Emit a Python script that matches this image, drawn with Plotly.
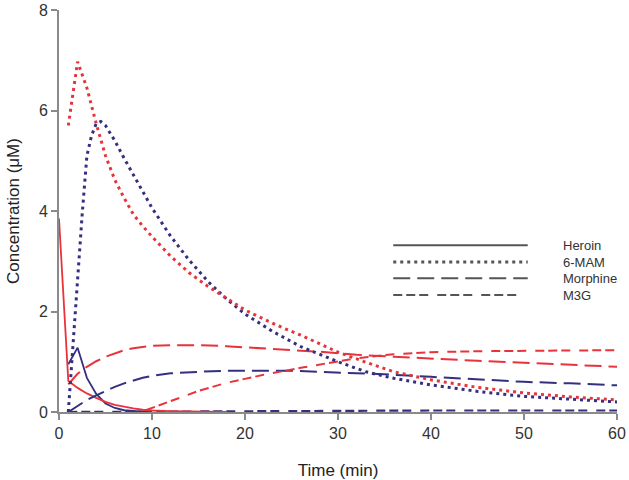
import plotly.graph_objects as go

RED = "#E8333B"
NAVY = "#34307F"

# Heroin
t_her_red = [0, 1, 2, 3, 4, 5, 6, 7, 8, 9, 10, 12, 14, 16, 18]
y_her_red = [3.85, 0.62, 0.48, 0.37, 0.28, 0.2, 0.14, 0.1, 0.07, 0.045, 0.03, 0.018, 0.01, 0.006, 0.004]
t_her_blue = [1, 2, 3, 4, 5, 6, 7, 8, 9, 10]
y_her_blue = [0.95, 1.28, 0.68, 0.36, 0.17, 0.08, 0.035, 0.015, 0.005, 0.0]

# 6-MAM
t_mam_red = [1, 2, 3, 4, 5, 6, 7, 8, 9, 10, 12, 14, 16, 18, 20, 22, 24, 26, 28, 30, 33, 36, 40, 45, 50, 55, 60]
y_mam_red = [5.7, 6.97, 6.45, 5.74, 5.1, 4.62, 4.26, 3.93, 3.7, 3.49, 3.1, 2.77, 2.5, 2.27, 2.03, 1.85, 1.68, 1.53, 1.36, 1.19, 0.99, 0.8, 0.64, 0.49, 0.38, 0.3, 0.24]
t_mam_blue = [1, 1.5, 2, 2.5, 3, 3.5, 4, 4.5, 5, 6, 7, 8, 9, 10, 12, 14, 16, 18, 20, 23, 26, 30, 33, 36, 40, 45, 50, 55, 60]
y_mam_blue = [0.0, 1.3, 2.8, 3.95, 5.1, 5.5, 5.74, 5.78, 5.7, 5.4, 5.05, 4.72, 4.38, 4.06, 3.5, 3.02, 2.6, 2.25, 1.95, 1.6, 1.3, 1.0, 0.8, 0.67, 0.54, 0.41, 0.31, 0.25, 0.2]

# Morphine
t_mor_red = [1, 2, 3, 4, 5, 6, 7, 8, 10, 12, 15, 18, 21, 25, 28, 32, 36, 40, 45, 50, 55, 60]
y_mor_red = [0.55, 0.76, 0.9, 1.01, 1.1, 1.17, 1.23, 1.27, 1.32, 1.33, 1.33, 1.31, 1.27, 1.23, 1.2, 1.14, 1.1, 1.07, 1.02, 0.98, 0.94, 0.9]
t_mor_blue = [1, 2, 3, 4, 5, 6, 7, 8, 9, 10, 12, 15, 18, 25, 30, 35, 40, 45, 50, 55, 60]
y_mor_blue = [0.0, 0.12, 0.24, 0.33, 0.42, 0.5, 0.57, 0.63, 0.68, 0.72, 0.77, 0.8, 0.82, 0.82, 0.79, 0.75, 0.7, 0.65, 0.6, 0.57, 0.53]

# M3G
t_m3g_red = [9.4, 12, 15, 18, 22, 26, 29, 32, 36, 40, 45, 50, 55, 60]
y_m3g_red = [0.04, 0.22, 0.42, 0.58, 0.74, 0.88, 0.97, 1.07, 1.15, 1.19, 1.21, 1.22, 1.23, 1.23]
t_m3g_blue = [1, 10, 20, 30, 40, 50, 60]
y_m3g_blue = [0.0, 0.01, 0.02, 0.025, 0.03, 0.03, 0.03]

legend_names = ["Heroin", "6-MAM", "Morphine", "M3G"]
x_ticks = [0, 10, 20, 30, 40, 50, 60]
y_ticks = [0, 2, 4, 6, 8]

DOT = "3px,4px"
LONG = "17px,7px"
GROUP = "9px,4px,9px,4px,9px,9px"

fig = go.Figure()

def add(x, y, color, dash, width=2):
    fig.add_trace(go.Scatter(x=x, y=y, mode="lines", showlegend=False,
                             line=dict(color=color, width=width, dash=dash),
                             hoverinfo="skip"))

add(t_m3g_blue, y_m3g_blue, NAVY, GROUP, 2.2)
add(t_her_blue, y_her_blue, NAVY, "solid", 1.8)
add(t_her_red, y_her_red, RED, "solid", 1.8)
add(t_mor_blue, y_mor_blue, NAVY, LONG, 2)
add(t_mor_red, y_mor_red, RED, LONG, 2)
add(t_m3g_red, y_m3g_red, RED, GROUP, 2)
add(t_mam_blue, y_mam_blue, NAVY, DOT, 3)
add(t_mam_red, y_mam_red, RED, DOT, 3)

# legend drawn as shapes + annotations (paper coordinates)
leg_y = [0.415, 0.373, 0.333, 0.291]
leg_dash = ["solid", DOT, LONG, GROUP]
leg_w = [2, 3, 2, 2]
leg_x1 = [0.840, 0.840, 0.840, 0.823]
for name, yy, d, w, x1 in zip(legend_names, leg_y, leg_dash, leg_w, leg_x1):
    fig.add_shape(type="line", xref="paper", yref="paper", x0=0.599, x1=x1, y0=yy, y1=yy,
                  line=dict(color="#555555", width=w, dash=d))
    fig.add_annotation(xref="paper", yref="paper", x=0.900, y=yy, text=name, showarrow=False,
                       xanchor="left", yanchor="middle",
                       font=dict(size=13, color="#333333"))

axis_common = dict(showline=True, linecolor="#8A8A8A", linewidth=2, ticks="outside",
                   ticklen=6, tickcolor="#8A8A8A", tickwidth=1.5, showgrid=False,
                   zeroline=False, automargin=False, ticklabeloverflow="allow",
                   tickfont=dict(size=16, color="#333333"))

fig.update_xaxes(range=[0, 60], tickvals=x_ticks,
                 title=dict(text="Time (min)", font=dict(size=17, color="#222222"), standoff=23),
                 **axis_common)
fig.update_yaxes(range=[0, 8], tickvals=y_ticks,
                 title=dict(text="Concentration (μM)", font=dict(size=17, color="#222222")),
                 **axis_common)

fig.update_layout(width=629, height=480, margin=dict(l=59, r=12, t=10, b=68),
                  plot_bgcolor="white", paper_bgcolor="white",
                  font=dict(family="Liberation Sans, Arial, sans-serif"),
                  showlegend=False)

# remove the default 8px page margin so the figure fills the window exactly
fig.write_html("out.html", config={"displayModeBar": False},
               post_script="document.body.style.margin='0';")
